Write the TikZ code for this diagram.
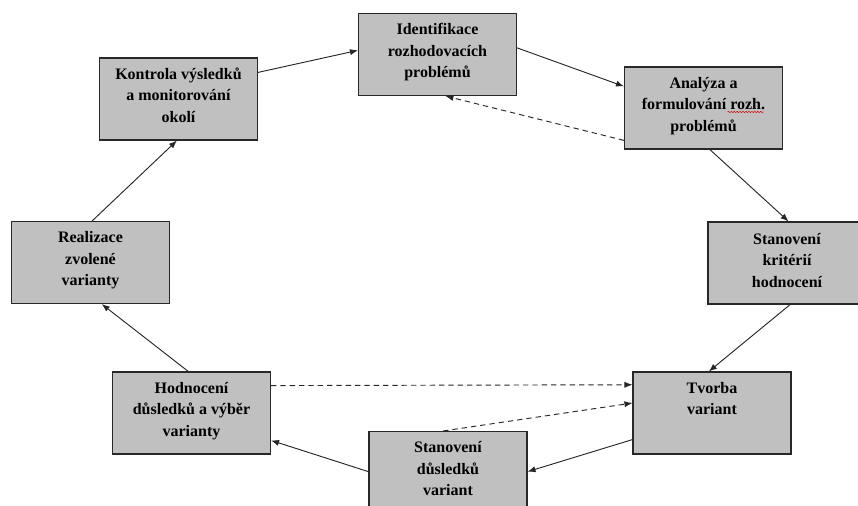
\documentclass[tikz,border=0pt]{standalone}
\usepackage{fontspec}
\setmainfont{Liberation Serif}
\usetikzlibrary{arrows.meta,calc,decorations.pathmorphing}

\definecolor{boxfill}{RGB}{192,192,192}
\definecolor{boxline}{RGB}{40,40,40}

\tikzset{
  stagebox/.style={draw=boxline, line width=0.8pt, fill=boxfill,
    minimum width=118.5pt, minimum height=61.5pt, inner sep=0pt},
  stagetext/.style={anchor=north, align=center, inner sep=0pt,
    font=\fontsize{12}{16.2}\selectfont\bfseries},
  flow/.style={line width=0.7pt, draw=black!85,
    -{Latex[length=6pt,width=4.6pt]}},
  feedback/.style={flow, dash pattern=on 4pt off 3pt}
}

\begin{document}
\begin{tikzpicture}[x=0.75pt,y=-0.75pt]
\useasboundingbox (0,0) rectangle (858,506);
\clip (0,0) rectangle (858,506);

% stage boxes
\node[stagebox] (ident) at (437.5,54.5) {};
\node[stagebox] (anal)  at (703.5,108) {};
\node[stagebox] (krit)  at (787,263) {};
\node[stagebox] (tvorba) at (712,413) {};
\node[stagebox] (dusl)  at (448,472.5) {};
\node[stagebox] (hodn)  at (191.5,413) {};
\node[stagebox] (real)  at (90.5,262.5) {};
\node[stagebox] (kontr) at (178.5,99) {};

% labels, hung from the top of each box (the strut fixes the first baseline)
\node[stagetext] (ident-t)  at ($(ident.north)+(0,6.4)$) {\strut Identifikace\\rozhodovacích\\problémů};
\node[stagetext] (anal-t)   at ($(anal.north)+(0,6.4)$) {\strut Analýza a\\formulování rozh.\\problémů};
\node[stagetext] (krit-t)   at ($(krit.north)+(0,7.4)$) {\strut Stanovení\\kritérií\\hodnocení};
\node[stagetext] (tvorba-t) at ($(tvorba.north)+(0,6.4)$) {\strut Tvorba\\variant};
\node[stagetext] (dusl-t)   at ($(dusl.north)+(0,6.4)$) {\strut Stanovení\\důsledků\\variant};
\node[stagetext] (hodn-t)   at ($(hodn.north)+(0,6.4)$) {\strut Hodnocení\\důsledků a výběr\\varianty};
\node[stagetext] (real-t)   at ($(real.north)+(0,6.4)$) {\strut Realizace\\zvolené\\varianty};
\node[stagetext] (kontr-t)  at ($(kontr.north)+(0,6.4)$) {\strut Kontrola výsledků\\a monitorování\\okolí};

% spell-check squiggle under "rozh."
\coordinate (sq-a) at ($(anal.north)+(24,45.5)$);
\coordinate (sq-b) at ($(anal.north)+(60,45.5)$);
\draw[red!85!black, line width=0.35pt,
  decorate, decoration={snake, amplitude=0.5pt, segment length=2.2pt}] (sq-a) -- (sq-b);

% main cycle
\draw[flow] ($(kontr.north east)!0.18!(kontr.south east)$) -- ($(ident.north west)!0.45!(ident.south west)$);
\draw[flow] ($(ident.north east)!0.42!(ident.south east)$) -- ($(anal.north west)!0.24!(anal.south west)$);
\draw[flow] ($(anal.south west)!0.54!(anal.south east)$) -- ($(krit.north west)!0.51!(krit.north east)$);
\draw[flow] ($(krit.south west)!0.52!(krit.south east)$) -- ($(tvorba.north west)!0.48!(tvorba.north east)$);
\draw[flow] ($(tvorba.north west)!0.82!(tvorba.south west)$) -- ($(dusl.north east)!0.49!(dusl.south east)$);
\draw[flow] ($(dusl.north west)!0.49!(dusl.south west)$) -- ($(hodn.north east)!0.83!(hodn.south east)$);
\draw[flow] ($(hodn.north west)!0.48!(hodn.north east)$) -- ($(real.south west)!0.57!(real.south east)$);
\draw[flow] ($(real.north west)!0.51!(real.north east)$) -- ($(kontr.south west)!0.49!(kontr.south east)$);

% feedback links
\draw[feedback] ($(anal.north west)!0.89!(anal.south west)$) -- ($(ident.south west)!0.55!(ident.south east)$);
\draw[feedback] ($(hodn.north east)!0.17!(hodn.south east)$) -- ($(tvorba.north west)!0.16!(tvorba.south west)$);
\draw[feedback] ($(dusl.north west)!0.47!(dusl.north east)$) -- ($(tvorba.north west)!0.38!(tvorba.south west)$);
\end{tikzpicture}
\end{document}
